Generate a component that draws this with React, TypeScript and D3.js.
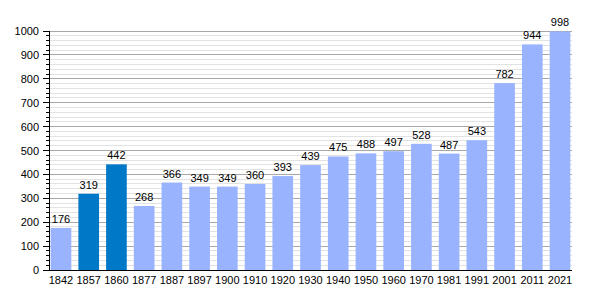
import React from "react";
import * as d3 from "d3";

const years = ["1842","1857","1860","1877","1887","1897","1900","1910","1920","1930","1940","1950","1960","1970","1981","1991","2001","2011","2021"];
const population = [176,319,442,268,366,349,349,360,393,439,475,488,497,528,487,543,782,944,998];
const highlighted = ["1857","1860"];
const yTicks = [0,100,200,300,400,500,600,700,800,900,1000];

const W = 600, H = 300;
const left = 49, right = 572, top = 31, bottom = 270;

export default function App() {
  const x = d3.scaleBand<string>().domain(years).range([left, right]).paddingInner(0.255).paddingOuter(0.06);
  const y = d3.scaleLinear().domain([0, 1000]).range([bottom, top]);
  const minor = d3.range(0, 1001, 20);
  const font = "'Liberation Sans', Arial, sans-serif";
  return (
    <svg width={W} height={H} style={{ position: "absolute", left: 0, top: 0, background: "#fff" }} fontFamily={font}>
      {minor.map(v => (
        <line key={"m" + v} x1={left} x2={right} y1={y(v)} y2={y(v)} stroke={v % 100 === 0 ? "#a8a8a8" : "#e2e2e2"} strokeWidth={1} shapeRendering="crispEdges" />
      ))}
      {minor.map(v => (
        <line key={"t" + v} x1={v % 100 === 0 ? left - 6 : left - 3} x2={left} y1={y(v)} y2={y(v)} stroke="#000" strokeWidth={1} shapeRendering="crispEdges" />
      ))}
      {years.map((yr, i) => (
        <g key={yr}>
          <rect x={x(yr)} y={y(population[i])} width={x.bandwidth()} height={bottom - y(population[i])} fill={highlighted.includes(yr) ? "#0078c8" : "#99b3ff"} />
          <text x={(x(yr) as number) + x.bandwidth() / 2} y={y(population[i]) - 5} textAnchor="middle" fontSize={11} fill="#000">{population[i]}</text>
          <text x={(x(yr) as number) + x.bandwidth() / 2} y={bottom + 14} textAnchor="middle" fontSize={11} fill="#000">{yr}</text>
        </g>
      ))}
      <line x1={left} x2={left} y1={top} y2={bottom} stroke="#000" strokeWidth={1} shapeRendering="crispEdges" />
      <line x1={left} x2={right} y1={bottom} y2={bottom} stroke="#000" strokeWidth={1} shapeRendering="crispEdges" />
      {yTicks.map(v => (
        <text key={"l" + v} x={left - 10} y={y(v) + 4} textAnchor="end" fontSize={11} fill="#000">{v}</text>
      ))}
    </svg>
  );
}
